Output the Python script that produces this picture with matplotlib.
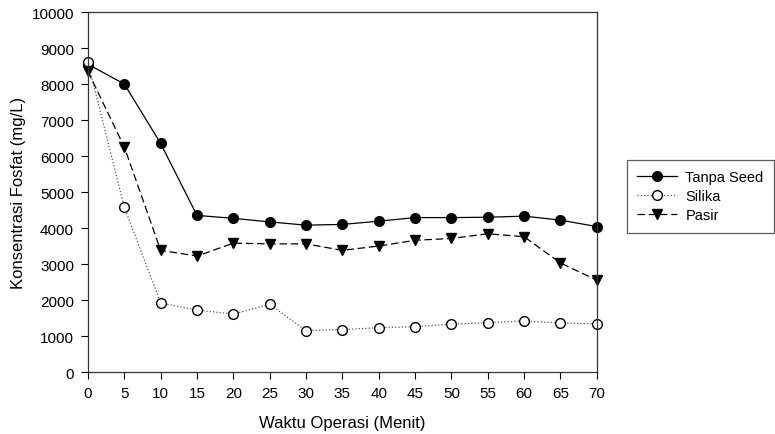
import numpy as np
import matplotlib
matplotlib.use("Agg")
import matplotlib.pyplot as plt

plt.rcParams['font.family'] = ['Liberation Sans', 'DejaVu Sans']

waktu = [0, 5, 10, 15, 20, 25, 30, 35, 40, 45, 50, 55, 60, 65, 70]
tanpa_seed = [8550, 8000, 6350, 4350, 4270, 4170, 4080, 4100, 4190, 4290, 4290, 4300, 4330, 4220, 4040]
silika = [8600, 4580, 1920, 1720, 1610, 1880, 1150, 1180, 1230, 1260, 1330, 1370, 1420, 1360, 1340]
pasir = [8350, 6250, 3380, 3220, 3580, 3560, 3560, 3380, 3500, 3660, 3710, 3840, 3760, 3030, 2550]

fig = plt.figure(figsize=(7.75, 4.35), dpi=100)
ax = fig.add_axes([0.1135, 0.1425, 0.6565, 0.8275])

ax.plot(waktu, tanpa_seed, '-', color='black', lw=0.9, marker='o', ms=7,
        mfc='black', mec='black', label='Tanpa Seed', clip_on=False)
ax.plot(waktu, silika, ':', color='#555555', lw=0.9, marker='o', ms=7,
        mfc='white', mec='black', mew=1.0, label='Silika', clip_on=False)
ax.plot(waktu, pasir, '--', color='black', lw=0.9, dashes=(6, 3), marker='v', ms=7,
        mfc='black', mec='black', label='Pasir', clip_on=False)

ax.set_xlim(0, 70)
ax.set_ylim(0, 10000)
ax.set_xticks(np.arange(0, 71, 5))
ax.set_yticks(np.arange(0, 10001, 1000))
ax.tick_params(direction='out', length=5, width=0.8, labelsize=11, pad=5)
for s in ax.spines.values():
    s.set_linewidth(0.9)
    s.set_color('#333333')

ax.set_xlabel('Waktu Operasi (Menit)', fontsize=12, labelpad=11)
ax.set_ylabel('Konsentrasi Fosfat (mg/L)', fontsize=12, labelpad=4)

leg = fig.legend(loc='upper left', bbox_to_anchor=(0.809, 0.63), fontsize=10.5,
                 frameon=True, fancybox=False, edgecolor='#333333',
                 handlelength=2.7, handletextpad=0.6, borderpad=0.7,
                 labelspacing=0.35, borderaxespad=0)
leg.get_frame().set_linewidth(0.9)

fig.savefig('out.png', dpi=100)
